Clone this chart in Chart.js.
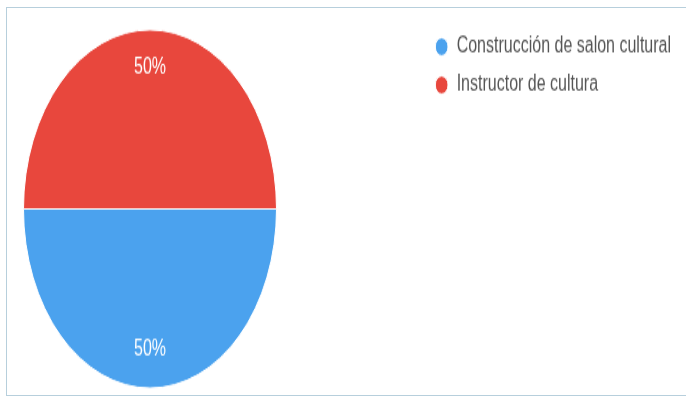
<!DOCTYPE html>
<html>
<head>
<meta charset="utf-8">
<script src="https://cdn.jsdelivr.net/npm/chart.js@4"></script>
<style>
  html, body { margin: 0; padding: 0; background: #fff; }
  body { width: 686px; height: 398px; position: relative; overflow: hidden; }
  #frame {
    position: absolute; left: 6px; top: 7px; right: -2px; bottom: 2px;
    border: 1px solid #b7cfdc; border-right: none;
  }
  #stretch {
    position: absolute; left: 0; top: 0; width: 686px; height: 281px;
    transform: scaleY(1.4164); transform-origin: 0 0;
  }
</style>
</head>
<body>
<div id="frame"></div>
<div id="stretch"><canvas id="pieChart" width="686" height="281"></canvas></div>
<script>
const labels = ["Construcción de salon cultural", "Instructor de cultura"];
const values = [50, 50];
const colors = ["#4ba2ee", "#e8473d"];

// pie sits in the left part, legend keeps its own box on the right
const pieArea = {
  id: "pieArea",
  afterLayout(chart) {
    const a = chart.chartArea;
    a.left = 0;
    a.right = 300;
    a.width = 300;
  },
};

const sliceLabels = {
  id: "sliceLabels",
  afterDatasetsDraw(chart) {
    const ctx = chart.ctx;
    const meta = chart.getDatasetMeta(0);
    const total = values.reduce((s, v) => s + v, 0);
    meta.data.forEach((arc, i) => {
      const { x, y, startAngle, endAngle, outerRadius } = arc.getProps(
        ["x", "y", "startAngle", "endAngle", "outerRadius"],
        true
      );
      const mid = (startAngle + endAngle) / 2;
      const r = outerRadius * 0.787;
      ctx.save();
      ctx.fillStyle = "#ffffff";
      ctx.font = "16px 'Liberation Sans', Arial, sans-serif";
      ctx.textAlign = "center";
      ctx.textBaseline = "middle";
      ctx.fillText(
        Math.round((values[i] / total) * 100) + "%",
        x + Math.cos(mid) * r,
        y + Math.sin(mid) * r
      );
      ctx.restore();
    });
  },
};

const ctx = document.getElementById("pieChart").getContext("2d");

new Chart(ctx, {
  type: "pie",
  data: {
    labels: labels,
    datasets: [
      {
        data: values,
        backgroundColor: colors,
        borderColor: "#ffffff",
        borderWidth: 1,
        radius: 126.5,
      },
    ],
  },
  options: {
    responsive: false,
    maintainAspectRatio: false,
    animation: false,
    rotation: 90,
    layout: {
      padding: { top: 14, right: 5, bottom: 0, left: 0 },
    },
    plugins: {
      legend: {
        position: "right",
        align: "start",
        labels: {
          usePointStyle: true,
          pointStyle: "circle",
          boxWidth: 14,
          boxHeight: 9,
          padding: 11,
          color: "#555555",
          font: { family: "'Liberation Sans', Arial, sans-serif", size: 16 },
        },
      },
      tooltip: { enabled: false },
    },
  },
  plugins: [pieArea, sliceLabels],
});
</script>
</body>
</html>
